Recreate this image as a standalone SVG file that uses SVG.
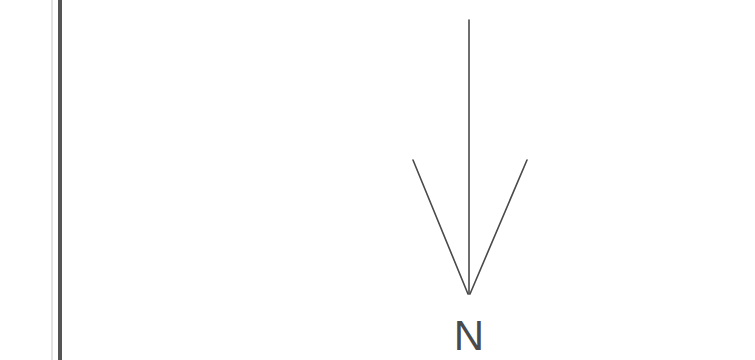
<svg xmlns="http://www.w3.org/2000/svg" width="755" height="360" viewBox="0 0 755 360">
<style>
.arrow{stroke:#4a4a4a;stroke-width:1.6;fill:none;stroke-linecap:round}
.lbl{font-family:"Liberation Sans",Arial,sans-serif;font-size:42px;fill:#4a4a4a}
</style>
<rect width="755" height="360" fill="#ffffff"/>
<g id="border">
<line x1="52" y1="0" x2="52" y2="360" stroke="#d8d8d8" stroke-width="1.5"/>
<line x1="60" y1="0" x2="60" y2="360" stroke="#555555" stroke-width="4"/>
</g>
<g id="north-arrow">
<line class="arrow" x1="469" y1="20" x2="469" y2="294"/>
<line class="arrow" x1="413" y1="160" x2="468" y2="294"/>
<line class="arrow" x1="527" y1="160" x2="470" y2="294"/>
<text class="lbl" x="469" y="350" text-anchor="middle">N</text>
</g>
</svg>
